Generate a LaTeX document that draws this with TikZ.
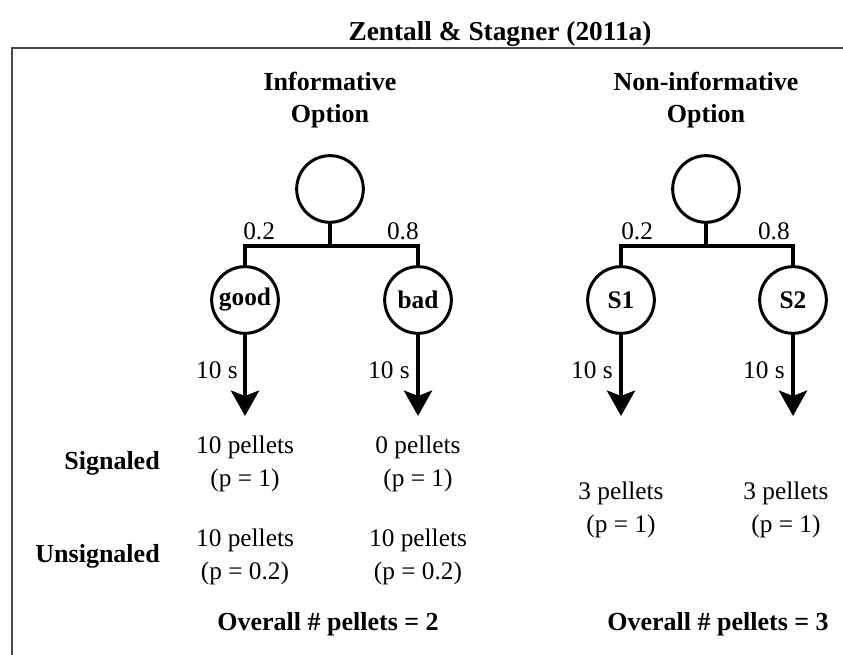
\documentclass[tikz,border=0pt]{standalone}
\usepackage{fontspec}
\setmainfont{Liberation Serif}
\usetikzlibrary{arrows.meta}
\begin{document}
\begin{tikzpicture}[x=0.75pt,y=-0.75pt,
  every node/.style={font=\fontsize{19}{24.5}\selectfont},
  txt/.style={inner sep=0pt,align=center},
  btxt/.style={inner sep=0pt,align=center,font=\fontsize{19.5}{23.5}\selectfont\bfseries},
  state/.style={circle,draw,line width=2.25pt,minimum size=50pt,inner sep=0pt,font=\fontsize{19}{24}\selectfont\bfseries},
  bar/.style={line width=3.4pt},
  outarrow/.style={line width=3.4pt,-{Stealth[length=19pt,width=21pt,inset=4pt]}},
  frame/.style={line width=1.5pt,draw=black!72}
]
\useasboundingbox (0,0) rectangle (843,655);
% frame
\coordinate (fbl) at (12,655);
\coordinate (ftl) at (12,48);
\coordinate (ftr) at (843,48);
\draw[frame] (fbl) -- (ftl) -- (ftr);
% title
\node[btxt,font=\fontsize{20.5}{24}\selectfont\bfseries] (title) at (500,34) {Zentall \& Stagner (2011a)};
\node[btxt] (infoh) at (330,100) {Informative\\Option};
\node[btxt] (noninfoh) at (706,100) {Non-informative\\Option};
% left tree
\node[state] (top1) at (330,189) {};
\node[state] (good) at (245,300) {good};
\node[state] (bad) at (418,300) {bad};
\coordinate (bar1) at (330,246);
\draw[bar] (top1.south) -- (bar1);
\draw[bar] (good.north) -- (good.north |- bar1) -- (bad.north |- bar1) -- (bad.north);
\node[txt,anchor=base west] (p1a) at (243,240) {0.2};
\node[txt,anchor=base east] (p1b) at (419,240) {0.8};
% right tree
\node[state] (top2) at (706,189) {};
\node[state] (s1) at (621,300) {S1};
\node[state] (s2) at (793,300) {S2};
\coordinate (bar2) at (706,246);
\draw[bar] (top2.south) -- (bar2);
\draw[bar] (s1.north) -- (s1.north |- bar2) -- (s2.north |- bar2) -- (s2.north);
\node[txt,anchor=base west] (p2a) at (621,240) {0.2};
\node[txt,anchor=base east] (p2b) at (790,240) {0.8};
% arrows
\coordinate (goodend) at (245,416);
\coordinate (badend) at (418,416);
\coordinate (s1end) at (621,416);
\coordinate (s2end) at (793,416);
\draw[outarrow] (good.south) -- (goodend);
\draw[outarrow] (bad.south) -- (badend);
\draw[outarrow] (s1.south) -- (s1end);
\draw[outarrow] (s2.south) -- (s2end);
\node[txt,anchor=east] (t1) at (238,370) {10 s};
\node[txt,anchor=east] (t2) at (410,370) {10 s};
\node[txt,anchor=east] (t3) at (613,370) {10 s};
\node[txt,anchor=east] (t4) at (785,370) {10 s};
% outcomes
\node[btxt,anchor=east] (sig) at (160,463) {Signaled};
\node[btxt,anchor=east] (unsig) at (160,556) {Unsignaled};
\node[txt] (o1) at (245,464) {10 pellets\\(p = 1)};
\node[txt] (o2) at (418,464) {0 pellets\\(p = 1)};
\node[txt] (o3) at (245,557) {10 pellets\\(p = 0.2)};
\node[txt] (o4) at (418,557) {10 pellets\\(p = 0.2)};
\node[txt] (o5) at (621,510) {3 pellets\\(p = 1)};
\node[txt] (o6) at (786,510) {3 pellets\\(p = 1)};
\node[btxt] (ov1) at (328,624) {Overall \# pellets = 2};
\node[btxt] (ov2) at (718,624) {Overall \# pellets = 3};
\end{tikzpicture}
\end{document}
